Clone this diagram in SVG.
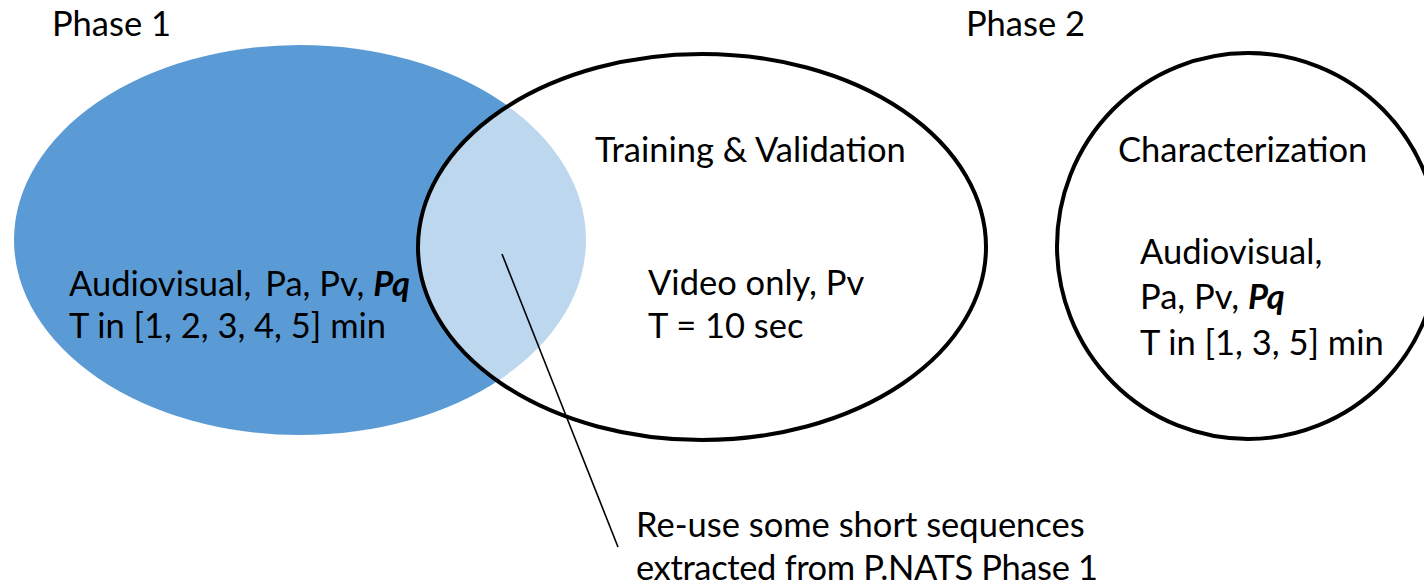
<svg xmlns="http://www.w3.org/2000/svg" width="1424" height="586" viewBox="0 0 1424 586">
  <style>
    .lbl { font-family: Lato, "Open Sans", "Liberation Sans", sans-serif; font-size: 34.5px; fill: #000; }
    .em { font-weight: bold; font-style: italic; }
    .ring { fill: #fff; stroke: #000; stroke-width: 4; }
  </style>
  <rect width="1424" height="586" fill="#fff"/>

  <text class="lbl" x="52" y="36">Phase 1</text>
  <text class="lbl" x="966" y="36">Phase 2</text>

  <!-- Phase 1 set -->
  <g id="phase1">
    <ellipse cx="300" cy="240" rx="286" ry="195" fill="#5B9BD5"/>
    <text class="lbl" x="69" y="296">Audiovisual,<tspan dx="14">Pa, Pv, </tspan><tspan class="em">Pq</tspan></text>
    <text class="lbl" x="69" y="338">T in [1, 2, 3, 4, 5] min</text>
  </g>

  <!-- Training / validation set, semi-transparent so the overlap shows lighter -->
  <g id="training">
    <ellipse cx="702" cy="247" rx="284" ry="193" fill="#fff" fill-opacity="0.6" stroke="#000" stroke-width="4"/>
    <text class="lbl" x="595" y="162">Training &amp; Validation</text>
    <text class="lbl" x="648" y="295">Video only, Pv</text>
    <text class="lbl" x="648" y="338">T = 10 sec</text>
  </g>

  <!-- Characterization set -->
  <g id="characterization">
    <ellipse class="ring" cx="1248" cy="246" rx="191" ry="193"/>
    <text class="lbl" x="1118" y="162">Characterization</text>
    <text class="lbl" x="1140" y="264">Audiovisual,</text>
    <text class="lbl" x="1140" y="309">Pa, Pv, <tspan class="em">Pq</tspan></text>
    <text class="lbl" x="1140" y="355">T in [1, 3, 5] min</text>
  </g>

  <g id="connectors">
    <line x1="502" y1="254" x2="618" y2="547" stroke="#000" stroke-width="1.6"/>
  </g>

  <g id="note">
    <text class="lbl" x="636" y="537">Re-use some short sequences</text>
    <text class="lbl" x="636" y="580" textLength="462" lengthAdjust="spacing">extracted from P.NATS Phase 1</text>
  </g>
</svg>
